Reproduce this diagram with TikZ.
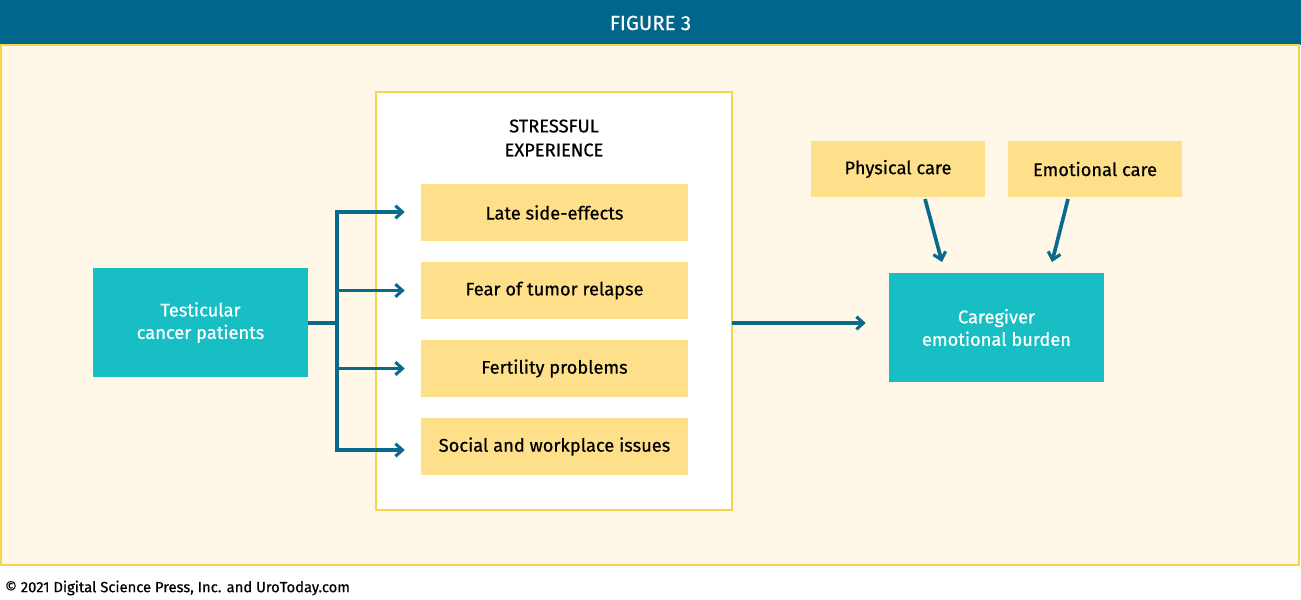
\documentclass[tikz,border=0pt]{standalone}
\usepackage{fontspec}
\setmainfont{Fira Sans}[FakeBold=0.6]
\usetikzlibrary{arrows.meta}
\definecolor{hdr}{HTML}{00668C}
\definecolor{cream}{HTML}{FFF8E8}
\definecolor{ybord}{HTML}{F7D54A}
\definecolor{yfill}{HTML}{FFE08A}
\definecolor{teal}{HTML}{17BEC4}
\definecolor{arr}{HTML}{0A6A8C}
\begin{document}
\begin{tikzpicture}[x=0.025cm,y=-0.025cm,
  ybox/.style={fill=yfill,draw=none,font=\fontsize{13}{16}\selectfont},
  tbox/.style={fill=teal,draw=none,text=white,font=\fontsize{13}{16}\selectfont,align=center},
  conn/.style={draw=arr,line width=2.6pt,-{Straight Barb[length=5pt,width=9pt,line width=2.2pt]}},
  line/.style={draw=arr,line width=2.6pt}]
\useasboundingbox (0,0) rectangle (1301,599);
\fill[hdr] (0,0) rectangle (1301,45);
\node[text=white,font=\fontsize{14.5}{16}\selectfont] (title) at (650.5,23) {FIGURE 3};
\draw[fill=cream,draw=ybord,line width=1.2pt] (1,45) rectangle (1299,565);
\node[anchor=west,font=\fontsize{10.5}{12}\selectfont] (cp) at (0,588) {© 2021 Digital Science Press, Inc. and UroToday.com};
\draw[fill=white,draw=ybord,line width=1.2pt] (376,92) rectangle (732,510);
\node[font=\fontsize{13}{17}\selectfont,align=center] (st) at (554,138) {STRESSFUL\\EXPERIENCE};
\node[ybox,minimum width=267*0.025cm,minimum height=57*0.025cm] (b1) at (554.5,212.5) {Late side-effects};
\node[ybox,minimum width=267*0.025cm,minimum height=57*0.025cm] (b2) at (554.5,290.5) {Fear of tumor relapse};
\node[ybox,minimum width=267*0.025cm,minimum height=57*0.025cm] (b3) at (554.5,368.5) {Fertility problems};
\node[ybox,minimum width=267*0.025cm,minimum height=57*0.025cm] (b4) at (554.5,446.5) {Social and workplace issues};
\node[tbox,minimum width=215*0.025cm,minimum height=109*0.025cm] (tc) at (200.5,322.5) {Testicular\\cancer patients};
\node[tbox,minimum width=215*0.025cm,minimum height=109*0.025cm] (cg) at (996.5,327.5) {Caregiver\\emotional burden};
\node[ybox,minimum width=174*0.025cm,minimum height=56*0.025cm] (pc) at (898,169) {Physical care};
\node[ybox,minimum width=174*0.025cm,minimum height=56*0.025cm] (ec) at (1095,169) {Emotional care};
\coordinate (j) at (337,323);
\draw[line] (tc.east|-0,323) -- (j);
\draw[conn] (j) -- (337,212) -- ([xshift=-16*0.025cm]b1.west|-0,212);
\draw[conn] (j) -- (337,290.5) -- ([xshift=-16*0.025cm]b2.west);
\draw[conn] (j) -- (337,368.5) -- ([xshift=-16*0.025cm]b3.west);
\draw[conn] (j) -- (337,450) -- ([xshift=-16*0.025cm]b4.west|-0,450);
\draw[conn] (732,323) -- ([xshift=-23*0.025cm]cg.west|-0,323);
\draw[conn] (925,199) -- (942,262);
\draw[conn] (1068,199) -- (1052,262);
\end{tikzpicture}
\end{document}
